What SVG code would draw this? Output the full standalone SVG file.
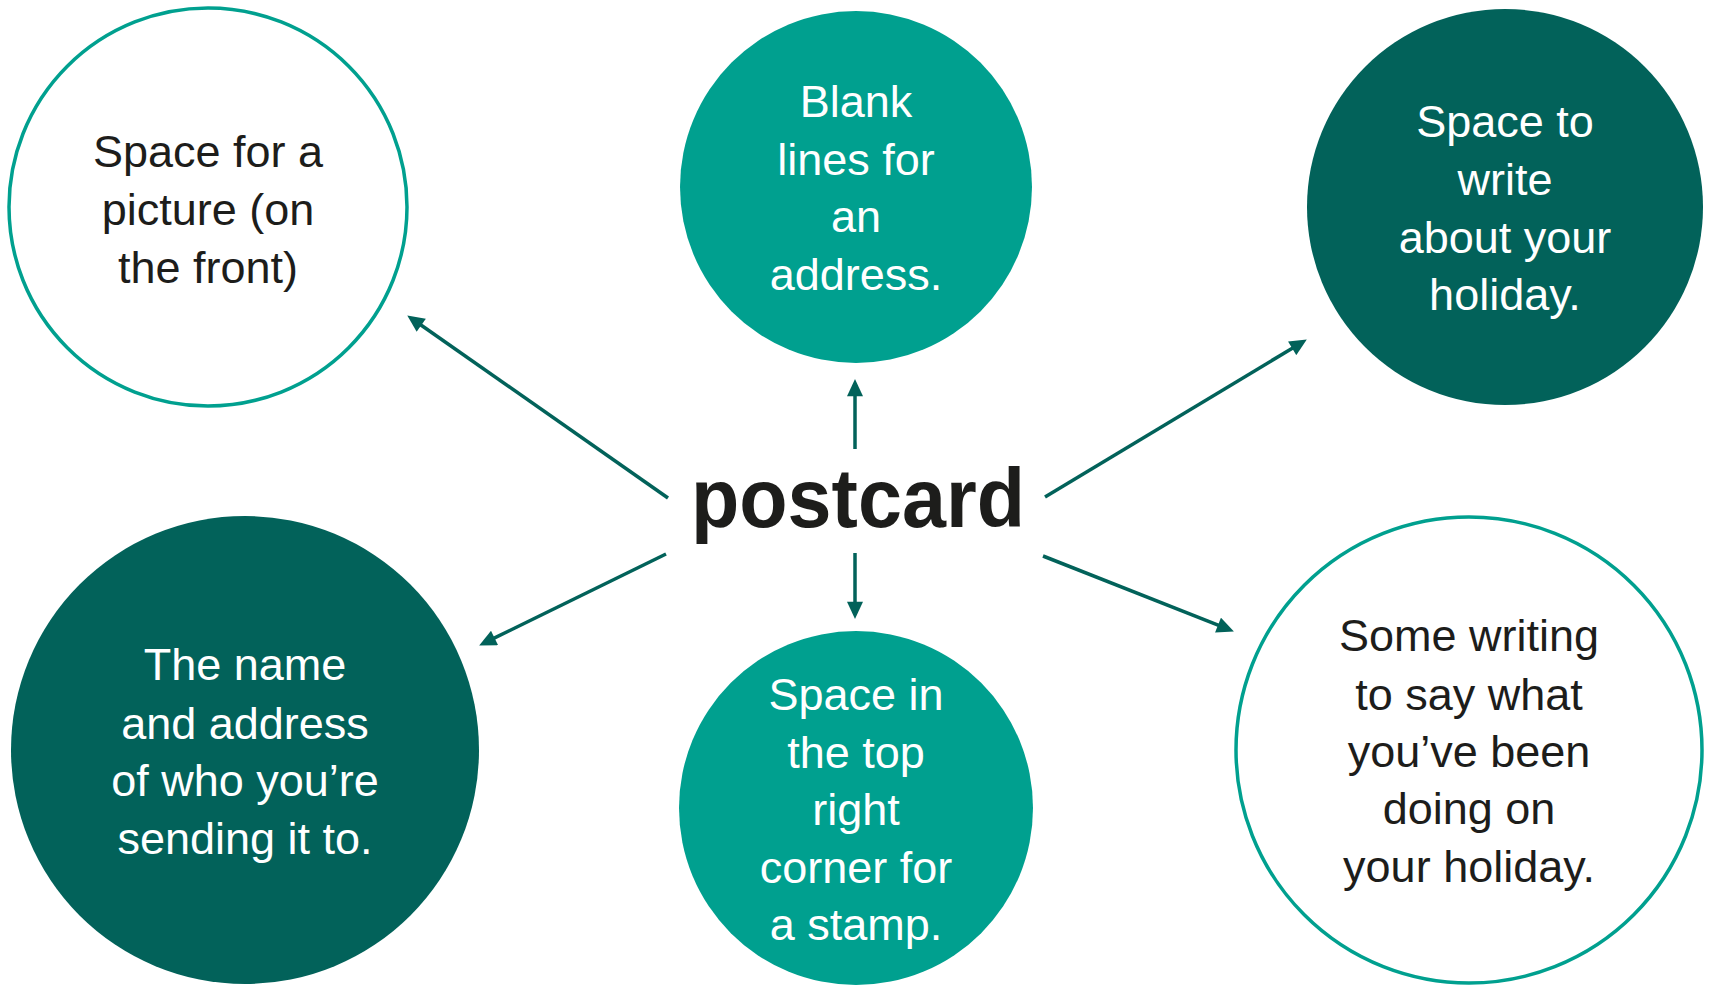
<svg xmlns="http://www.w3.org/2000/svg" width="1713" height="985" viewBox="0 0 1713 985">
<defs>
<marker id="ah" markerUnits="userSpaceOnUse" markerWidth="18" markerHeight="16" refX="2" refY="7.5" orient="auto" viewBox="0 0 16 15">
<path d="M0,0 L16,7.5 L0,15 z" fill="#02625A"/>
</marker>
<style>
.outline{fill:#FFFFFF;stroke:#00A08F;stroke-width:3.5}
.teal{fill:#00A08F}
.dark{fill:#02625A}
.t{font-family:"Liberation Sans",Arial,sans-serif;font-size:45px;text-anchor:middle}
.tw{fill:#FFFFFF}
.tb{fill:#1D1D1B}
.conn line{stroke:#02625A;stroke-width:3.5;marker-end:url(#ah)}
</style>
</defs>
<rect width="1713" height="985" fill="#FFFFFF"/>
<g id="node-picture">
<circle class="outline" cx="208" cy="207" r="199"/>
<text class="t tb"><tspan x="208" y="167">Space for a</tspan><tspan x="208" y="225">picture (on</tspan><tspan x="208" y="283">the front)</tspan></text>
</g>
<g id="node-address-lines">
<circle class="teal" cx="856" cy="187" r="176"/>
<text class="t tw"><tspan x="856" y="117">Blank</tspan><tspan x="856" y="175">lines for</tspan><tspan x="856" y="232">an</tspan><tspan x="856" y="290">address.</tspan></text>
</g>
<g id="node-write">
<circle class="dark" cx="1505" cy="207" r="198"/>
<text class="t tw"><tspan x="1505" y="137">Space to</tspan><tspan x="1505" y="195">write</tspan><tspan x="1505" y="253">about your</tspan><tspan x="1505" y="310">holiday.</tspan></text>
</g>
<g id="node-name">
<circle class="dark" cx="245" cy="750" r="234"/>
<text class="t tw"><tspan x="245" y="680">The name</tspan><tspan x="245" y="739">and address</tspan><tspan x="245" y="796">of who you’re</tspan><tspan x="245" y="854">sending it to.</tspan></text>
</g>
<g id="node-stamp">
<circle class="teal" cx="856" cy="808" r="177"/>
<text class="t tw"><tspan x="856" y="710">Space in</tspan><tspan x="856" y="768">the top</tspan><tspan x="856" y="825">right</tspan><tspan x="856" y="883">corner for</tspan><tspan x="856" y="940">a stamp.</tspan></text>
</g>
<g id="node-writing">
<circle class="outline" cx="1469" cy="750" r="233"/>
<text class="t tb"><tspan x="1469" y="651">Some writing</tspan><tspan x="1469" y="710">to say what</tspan><tspan x="1469" y="767">you’ve been</tspan><tspan x="1469" y="824">doing on</tspan><tspan x="1469" y="882">your holiday.</tspan></text>
</g>
<g id="node-postcard">
<text x="858" y="527" font-family="Liberation Sans,Arial,sans-serif" font-weight="bold" font-size="84" fill="#1D1D1B" text-anchor="middle" textLength="334" lengthAdjust="spacingAndGlyphs">postcard</text>
</g>
<g id="connectors" class="conn">
<line x1="668" y1="498" x2="419.5" y2="324"/>
<line x1="855" y1="449" x2="855" y2="394"/>
<line x1="1045" y1="497" x2="1294" y2="347.2"/>
<line x1="666" y1="554" x2="492.6" y2="638.9"/>
<line x1="855" y1="553" x2="855" y2="604"/>
<line x1="1043" y1="556" x2="1220" y2="625.9"/>
</g>
</svg>
